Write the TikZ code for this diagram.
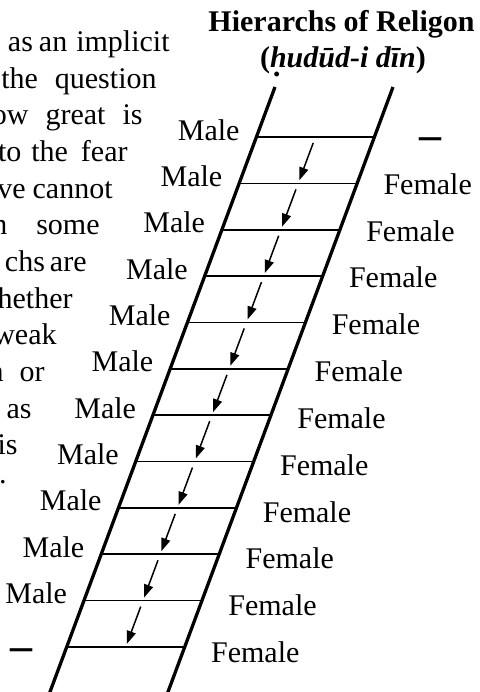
\documentclass[tikz,border=0pt]{standalone}
\usepackage{fontspec}
\setmainfont{Liberation Serif}
\usetikzlibrary{arrows.meta,calc}
\newcommand\hdotbelow{h\llap{\raisebox{-0.3em}{.}\hspace{0.17em}}}
\begin{document}
\begin{tikzpicture}[x=0.5pt,y=-0.5pt,
  lbl/.style={inner sep=0pt,font=\fontsize{15}{18}\selectfont},
  txt/.style={inner sep=0pt,anchor=base east,font=\fontsize{15}{18}\selectfont},
  ttl/.style={inner sep=0pt,anchor=base,font=\fontsize{15}{18}\bfseries\selectfont},
  rail/.style={line width=1.65pt},
  rungline/.style={line width=0.85pt},
  flow/.style={line width=0.75pt,-{Triangle[length=6.5pt,width=4.6pt]}},
  dashlbl/.style={inner sep=0pt,font=\fontsize{22}{24}\bfseries\selectfont}]
\useasboundingbox (0,0) rectangle (480,692);
\clip (0,0) rectangle (480,692);
% title
\node[ttl] (t1) at (341.5,31) {Hierarchs of Religon};
\node[ttl] (t2) at (343,67) {(\textit{\hdotbelow ud\=ud-i d\=\i n})};
% left paragraph fragments
\node[txt] (p1) at (170,51.5) {as\hspace{3pt}an\hspace{4.5pt}implicit};
\node[txt] (p2) at (157,88.2) {the\hspace{8.5pt}question};
\node[txt] (p3) at (143,124.8) {ow\hspace{8.5pt}great\hspace{8.5pt}is};
\node[txt] (p4) at (128,161.5) {to\hspace{5pt}the\hspace{6.5pt}fear};
\node[txt] (p5) at (113,198.1) {ve\hspace{3.5pt}cannot};
\node[txt] (p6) at (100,234.8) {n\hspace{14.5pt}some};
\node[txt] (p7) at (87,271.4) {chs\hspace{2.5pt}are};
\node[txt] (p8) at (73,308.1) {hether};
\node[txt] (p9) at (57,344.7) {weak};
\node[txt] (p10) at (45,381.4) {n\hspace{8pt}or};
\node[txt] (p11) at (32,418) {as};
\node[txt] (p12) at (18,454.7) {is};
\node[txt] (p13) at (7,483) {.};
% rails
\coordinate (LT) at (275,87);
\coordinate (LB) at ({275-0.372*(700-87)},700);
\coordinate (RT) at (393,87);
\coordinate (RB) at ({393-0.372*(700-87)},700);
\draw[rail] (LT) -- (LB);
\draw[rail] (RT) -- (RB);
% rungs
\foreach \j in {0,...,11} {
  \pgfmathsetmacro\yy{137+46.36*\j}
  \pgfmathsetmacro\lx{275-0.372*(\yy-87)}
  \coordinate (rl\j) at (\lx,\yy);
  \coordinate (rr\j) at (\lx+118,\yy);
  \coordinate (mid\j) at (\lx+59,\yy);
  \draw[rungline] (rl\j) -- (rr\j);
}
% arrows
\foreach \j [evaluate=\j as \k using int(\j+1)] in {0,...,10} {
  \coordinate (as\j) at ($(mid\j)+(-2.2,6)$);
  \coordinate (ae\j) at ($(mid\k)+(1.1,-3)$);
  \draw[flow] (as\j) -- (ae\j);
}
% Male labels
\foreach \j in {0,...,10} {
  \node[lbl,anchor=base east] (male\j) at ($(rl\j)+(-16.5,3)$) {Male};
}
% Female labels
\foreach \j in {1,...,11} {
  \pgfmathsetmacro\dy{11+0.45*(\j-1)}
  \node[lbl,anchor=base west] (fem\j) at ($(rr\j)+(26,\dy)$) {Female};
}
% dashes
\node[dashlbl,anchor=base west] (dtop) at ($(rr0)+(44.6,12.5)$) {–};
\node[dashlbl,anchor=base east] (dbot) at ($(rl11)+(-33.7,14)$) {–};
\end{tikzpicture}
\end{document}
